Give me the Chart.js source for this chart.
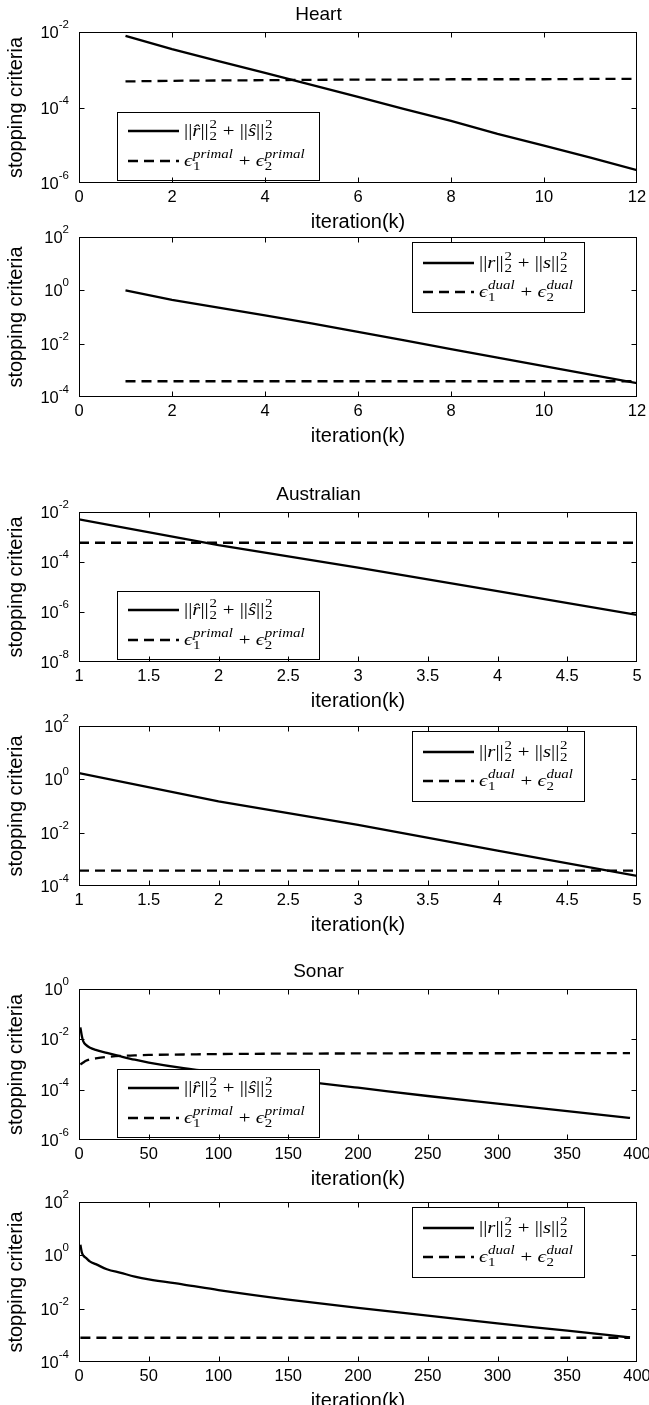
<!DOCTYPE html>
<html>
<head>
<meta charset="utf-8">
<script src="https://cdn.jsdelivr.net/npm/chart.js@4.4.1/dist/chart.umd.min.js"></script>
<style>
html,body{margin:0;padding:0;background:#fff;}
body{width:649px;height:1405px;position:relative;overflow:hidden;}
.panel{position:absolute;left:0;width:649px;}
.panel canvas{display:block;}
</style>
</head>
<body>
<div class="panel" id="p1"><canvas id="c1"></canvas></div>
<div class="panel" id="p2"><canvas id="c2"></canvas></div>
<div class="panel" id="p3"><canvas id="c3"></canvas></div>
<div class="panel" id="p4"><canvas id="c4"></canvas></div>
<div class="panel" id="p5"><canvas id="c5"></canvas></div>
<div class="panel" id="p6"><canvas id="c6"></canvas></div>
<script>
// ---------------- data ----------------
const heartIter = [1, 2, 3, 4, 5, 6, 7, 8, 9, 10, 11, 12];
const heartPrimalRes = [7.9e-3, 3.5e-3, 1.7e-3, 8.3e-4, 4.0e-4, 1.9e-4, 9.1e-5, 4.4e-5, 2.0e-5, 9.8e-6, 4.7e-6, 2.2e-6];
const heartPrimalTol = [4.9e-4, 5.1e-4, 5.2e-4, 5.3e-4, 5.4e-4, 5.5e-4, 5.5e-4, 5.6e-4, 5.6e-4, 5.6e-4, 5.7e-4, 5.7e-4];
const heartDualRes = [1.0, 0.44, 0.224, 0.115, 0.0575, 0.0275, 0.0132, 6.3e-3, 3.0e-3, 1.45e-3, 6.9e-4, 3.3e-4];
const heartDualTol = [3.9e-4, 3.9e-4, 3.9e-4, 3.9e-4, 3.9e-4, 3.9e-4, 3.9e-4, 3.9e-4, 3.9e-4, 3.9e-4, 3.9e-4, 3.9e-4];

const ausIter = [1, 2, 3, 4, 5];
const ausPrimalRes = [5.1e-3, 4.7e-4, 6.0e-5, 6.9e-6, 7.6e-7];
const ausPrimalTol = [5.9e-4, 5.9e-4, 5.9e-4, 5.9e-4, 5.9e-4];
const ausDualRes = [1.7, 0.15, 0.0195, 2.1e-3, 2.4e-4];
const ausDualTol = [3.8e-4, 3.8e-4, 3.8e-4, 3.8e-4, 3.8e-4];

const sonarIter = [1, 2, 3, 5, 8, 12, 20, 30, 40, 50, 75, 100, 150, 200, 250, 300, 350, 395];
const sonarPrimalRes = [3.0e-2, 1.4e-2, 8.5e-3, 6.0e-3, 4.6e-3, 3.8e-3, 2.9e-3, 2.1e-3, 1.55e-3, 1.2e-3, 7.2e-4, 4.9e-4, 2.5e-4, 1.2e-4, 5.6e-5, 2.8e-5, 1.4e-5, 7.5e-6];
const sonarPrimalTol = [1.0e-3, 1.1e-3, 1.2e-3, 1.4e-3, 1.6e-3, 1.75e-3, 2.0e-3, 2.2e-3, 2.3e-3, 2.4e-3, 2.5e-3, 2.6e-3, 2.7e-3, 2.75e-3, 2.8e-3, 2.8e-3, 2.85e-3, 2.85e-3];
const sonarDualRes = [2.5, 1.3, 1.0, 0.8, 0.58, 0.47, 0.3, 0.22, 0.16, 0.125, 0.08, 0.05, 0.022, 0.0107, 5.5e-3, 2.8e-3, 1.5e-3, 8.3e-4];
const sonarDualTol = [8.1e-4, 8.1e-4, 8.1e-4, 8.1e-4, 8.1e-4, 8.1e-4, 8.1e-4, 8.1e-4, 8.1e-4, 8.1e-4, 8.1e-4, 8.1e-4, 8.1e-4, 8.1e-4, 8.1e-4, 8.1e-4, 8.1e-4, 8.1e-4];

const heartXTicks = [0, 2, 4, 6, 8, 10, 12];
const ausXTicks = [1, 1.5, 2, 2.5, 3, 3.5, 4, 4.5, 5];
const sonarXTicks = [0, 50, 100, 150, 200, 250, 300, 350, 400];
const yTicksP1 = [1e-6, 1e-4, 1e-2];
const yTicksDual = [1e-4, 1e-2, 1e0, 1e2];
const yTicksP3 = [1e-8, 1e-6, 1e-4, 1e-2];
const yTicksP5 = [1e-6, 1e-4, 1e-2, 1e0];

const titles = ['Heart', 'Australian', 'Sonar'];
const xAxisLabel = 'iteration(k)';
const yAxisLabel = 'stopping criteria';

// legend texts (math pieces)
const lblPrimalRes = '||r\u0302||\u2082\u00b2 + ||s\u0302||\u2082\u00b2';
const lblPrimalTol = '\u03f5\u2081^primal + \u03f5\u2082^primal';
const lblDualRes = '||r||\u2082\u00b2 + ||s||\u2082\u00b2';
const lblDualTol = '\u03f5\u2081^dual + \u03f5\u2082^dual';
const mathPrimalRes = [{t:'||'},{t:'r\u0302',i:1},{t:'||'},{sup:'2',sub:'2'},{t:' + '},{t:'||'},{t:'s\u0302',i:1},{t:'||'},{sup:'2',sub:'2'}];
const mathDualRes = [{t:'||'},{t:'r',i:1},{t:'||'},{sup:'2',sub:'2'},{t:' + '},{t:'||'},{t:'s',i:1},{t:'||'},{sup:'2',sub:'2'}];
const mathPrimalTol = [{t:'\u03f5',i:1},{sup:'primal',sub:'1'},{t:' + '},{t:'\u03f5',i:1},{sup:'primal',sub:'2'}];
const mathDualTol = [{t:'\u03f5',i:1},{sup:'dual',sub:'1'},{t:' + '},{t:'\u03f5',i:1},{sup:'dual',sub:'2'}];

// ---------------- styling ----------------
const SANS = "'Liberation Sans', Arial, Helvetica, sans-serif";
const SERIF = "'Liberation Serif', 'DejaVu Serif', serif";
const DASH = [10, 6];
const LW = 2.3;
const MATH_SX = 1.3;
Chart.defaults.font.family = SANS;
Chart.defaults.color = '#000';

function drawMath(ctx, x0, y0, parts) {
  ctx.save();
  ctx.translate(x0, y0);
  ctx.scale(MATH_SX, 1);
  ctx.fillStyle = '#000';
  ctx.textAlign = 'left';
  ctx.textBaseline = 'alphabetic';
  let x = 0;
  for (const p of parts) {
    if (p.t !== undefined) {
      ctx.font = (p.i ? 'italic ' : '') + '16px ' + SERIF;
      ctx.fillText(p.t, x, 0);
      x += ctx.measureText(p.t).width;
    } else {
      const supIt = /[a-z]/.test(p.sup) ? 'italic ' : '';
      ctx.font = supIt + '11.5px ' + SERIF;
      const w1 = ctx.measureText(p.sup).width;
      ctx.fillText(p.sup, x + 0.5, -7.5);
      ctx.font = '11.5px ' + SERIF;
      const w2 = ctx.measureText(p.sub).width;
      ctx.fillText(p.sub, x + 0.5, 4);
      x += Math.max(w1, w2) + 1;
    }
  }
  ctx.restore();
}

const framePlugin = {
  id: 'frame',
  afterDatasetsDraw(chart, args, opts) {
    const ctx = chart.ctx;
    const a = chart.chartArea;
    const xs = chart.scales.x, ys = chart.scales.y;
    ctx.save();
    // legend
    const lg = opts.legend;
    if (lg) {
      const bx = Math.round(a.left + lg.dx);
      const by = lg.anchor === 'bottom' ? Math.round(a.bottom - lg.dy - lg.h) : Math.round(a.top + lg.dy);
      ctx.fillStyle = '#fff';
      ctx.fillRect(bx, by, lg.w, lg.h);
      ctx.setLineDash([]);
      ctx.lineWidth = 1;
      ctx.strokeStyle = '#000';
      ctx.strokeRect(bx + 0.5, by + 0.5, lg.w, lg.h);
      lg.entries.forEach((e, i) => {
        const yy = by + lg.rows[i];
        ctx.lineWidth = LW;
        ctx.setLineDash(e.dashed ? DASH : []);
        ctx.beginPath();
        ctx.moveTo(bx + 11, yy);
        ctx.lineTo(bx + 62, yy);
        ctx.stroke();
        ctx.setLineDash([]);
        drawMath(ctx, bx + 67, yy + 4.5, e.math);
      });
    }
    // box
    const L = Math.round(a.left) + 0.5, R = Math.round(a.right) - 0.5;
    const T = Math.round(a.top) + 0.5, B = Math.round(a.bottom) - 0.5;
    ctx.setLineDash([]);
    ctx.lineWidth = 1;
    ctx.strokeStyle = '#000';
    ctx.strokeRect(L, T, R - L, B - T);
    ctx.beginPath();
    const tl = 5;
    xs.ticks.forEach(t => {
      if (t.value <= xs.min || t.value >= xs.max) return;
      const px = Math.round(xs.getPixelForValue(t.value)) + 0.5;
      ctx.moveTo(px, B); ctx.lineTo(px, B - tl);
      ctx.moveTo(px, T); ctx.lineTo(px, T + tl);
    });
    ys.ticks.forEach(t => {
      if (t.value <= ys.min || t.value >= ys.max) return;
      const py = Math.round(ys.getPixelForValue(t.value)) + 0.5;
      ctx.moveTo(L, py); ctx.lineTo(L + tl, py);
      ctx.moveTo(R, py); ctx.lineTo(R - tl, py);
    });
    ctx.stroke();
    // y tick labels 10^n
    ctx.fillStyle = '#000';
    ctx.textAlign = 'left';
    ctx.textBaseline = 'alphabetic';
    ys.ticks.forEach(t => {
      const py = ys.getPixelForValue(t.value);
      const ex = String(Math.round(Math.log10(t.value)));
      ctx.font = '11.5px ' + SANS;
      const we = ctx.measureText(ex).width;
      ctx.font = '16.5px ' + SANS;
      const wb = ctx.measureText('10').width;
      const xr = a.left - 10;
      ctx.fillText('10', xr - we - wb, py + 6);
      ctx.font = '11.5px ' + SANS;
      ctx.fillText(ex, xr - we, py - 4);
    });
    ctx.restore();
  }
};

function makePanel(n, cfg) {
  const topPad = 32, botPad = 51;
  const h = (cfg.plotBottom - cfg.plotTop) + topPad + botPad;
  const div = document.getElementById('p' + n);
  div.style.top = (cfg.plotTop - topPad) + 'px';
  div.style.height = h + 'px';
  const cv = document.getElementById('c' + n);
  cv.width = 649; cv.height = h;
  cv.style.width = '649px'; cv.style.height = h + 'px';
  const datasets = cfg.series.map(s => ({
    label: s.label,
    data: s.x.map((xv, i) => ({x: xv, y: s.y[i]})),
    borderColor: '#000',
    backgroundColor: '#000',
    borderWidth: LW,
    borderDash: s.dashed ? DASH : [],
    pointRadius: 0,
    tension: 0,
    cubicInterpolationMode: cfg.smooth ? 'monotone' : 'default',
    fill: false
  }));
  new Chart(cv, {
    type: 'line',
    data: {datasets},
    plugins: [framePlugin],
    options: {
      responsive: false,
      animation: false,
      events: [],
      layout: {padding: {left: 0, right: 12, top: cfg.title ? 0 : topPad, bottom: 0}},
      plugins: {
        legend: {display: false},
        tooltip: {enabled: false},
        title: {
          display: !!cfg.title,
          text: cfg.title || '',
          color: '#000',
          font: {size: 19, weight: 'normal', family: SANS},
          padding: {top: 3, bottom: 6.2}
        },
        frame: {legend: cfg.legend}
      },
      scales: {
        x: {
          type: 'linear',
          position: 'bottom',
          min: cfg.xMin, max: cfg.xMax,
          afterBuildTicks: s => { s.ticks = cfg.xTicks.map(v => ({value: v})); },
          afterFit: s => { s.height = botPad; s.paddingLeft = 0; s.paddingRight = 0; },
          grid: {display: false, drawTicks: false},
          border: {display: false},
          ticks: {autoSkip: false, maxRotation: 0, minRotation: 0, padding: 5, color: '#000',
                  font: {size: 16.5, family: SANS}, callback: v => String(v)},
          title: {display: true, text: xAxisLabel, color: '#000', font: {size: 20, family: SANS}, padding: 0}
        },
        y: {
          type: 'logarithmic',
          position: 'left',
          min: cfg.yMin, max: cfg.yMax,
          afterBuildTicks: s => { s.ticks = cfg.yTicks.map(v => ({value: v})); },
          afterFit: s => { s.width = 79; s.paddingTop = 0; s.paddingBottom = 0; },
          grid: {display: false, drawTicks: false},
          border: {display: false},
          ticks: {display: false},
          title: {display: true, text: yAxisLabel, color: '#000', font: {size: 20, family: SANS}, padding: {top: 4, bottom: 0}}
        }
      }
    }
  });
}

const primalLegend = (ent) => ({anchor: 'bottom', dx: 38, dy: 3, w: 202, h: 68, rows: [19, 49], entries: ent});
const dualLegend = (ent) => ({anchor: 'top', dx: 333, dy: 5, w: 172, h: 70, rows: [21, 50], entries: ent});

makePanel(1, {
  title: titles[0], plotTop: 32, plotBottom: 183,
  xMin: 0, xMax: 12, xTicks: heartXTicks, yMin: 1e-6, yMax: 1e-2, yTicks: yTicksP1,
  series: [{label: lblPrimalRes, x: heartIter, y: heartPrimalRes}, {label: lblPrimalTol, x: heartIter, y: heartPrimalTol, dashed: true}],
  legend: primalLegend([{math: mathPrimalRes}, {math: mathPrimalTol, dashed: true}])
});
makePanel(2, {
  plotTop: 237, plotBottom: 397,
  xMin: 0, xMax: 12, xTicks: heartXTicks, yMin: 1e-4, yMax: 1e2, yTicks: yTicksDual,
  series: [{label: lblDualRes, x: heartIter, y: heartDualRes}, {label: lblDualTol, x: heartIter, y: heartDualTol, dashed: true}],
  legend: dualLegend([{math: mathDualRes}, {math: mathDualTol, dashed: true}])
});
makePanel(3, {
  title: titles[1], plotTop: 512, plotBottom: 662,
  xMin: 1, xMax: 5, xTicks: ausXTicks, yMin: 1e-8, yMax: 1e-2, yTicks: yTicksP3,
  series: [{label: lblPrimalRes, x: ausIter, y: ausPrimalRes}, {label: lblPrimalTol, x: ausIter, y: ausPrimalTol, dashed: true}],
  legend: primalLegend([{math: mathPrimalRes}, {math: mathPrimalTol, dashed: true}])
});
makePanel(4, {
  plotTop: 726, plotBottom: 886,
  xMin: 1, xMax: 5, xTicks: ausXTicks, yMin: 1e-4, yMax: 1e2, yTicks: yTicksDual,
  series: [{label: lblDualRes, x: ausIter, y: ausDualRes}, {label: lblDualTol, x: ausIter, y: ausDualTol, dashed: true}],
  legend: dualLegend([{math: mathDualRes}, {math: mathDualTol, dashed: true}])
});
makePanel(5, {
  title: titles[2], plotTop: 989, plotBottom: 1140, smooth: true,
  xMin: 0, xMax: 400, xTicks: sonarXTicks, yMin: 1e-6, yMax: 1e0, yTicks: yTicksP5,
  series: [{label: lblPrimalRes, x: sonarIter, y: sonarPrimalRes}, {label: lblPrimalTol, x: sonarIter, y: sonarPrimalTol, dashed: true}],
  legend: primalLegend([{math: mathPrimalRes}, {math: mathPrimalTol, dashed: true}])
});
makePanel(6, {
  plotTop: 1202, plotBottom: 1362, smooth: true,
  xMin: 0, xMax: 400, xTicks: sonarXTicks, yMin: 1e-4, yMax: 1e2, yTicks: yTicksDual,
  series: [{label: lblDualRes, x: sonarIter, y: sonarDualRes}, {label: lblDualTol, x: sonarIter, y: sonarDualTol, dashed: true}],
  legend: dualLegend([{math: mathDualRes}, {math: mathDualTol, dashed: true}])
});
</script>
</body>
</html>
